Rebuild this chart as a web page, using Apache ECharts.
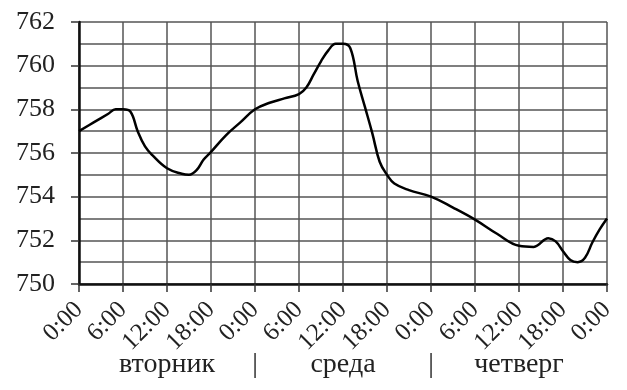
<!DOCTYPE html>
<html><head><meta charset="utf-8">
<script src="https://cdn.jsdelivr.net/npm/echarts@6/dist/echarts.min.js"></script>
<style>html,body{margin:0;padding:0;background:#fff}#c{width:627px;height:390px}</style>
</head><body><div id="c"></div>
<script>
const hours = [0,2,4,5,6,7,8,9,10,12,14,15,16,17,18,20,22,24,26,28,30,31,32,33,34,35,36,37,38,39,40,41,42,43,45,48,51,54,57,60,62,64,65,66,67,68,69,70,71,72];
const pressure = [757.0,757.4,757.8,758.0,758.0,757.9,757.0,756.3,755.9,755.3,755.05,755.0,755.2,755.7,756.05,756.8,757.4,758.0,758.3,758.5,758.7,759.0,759.6,760.2,760.7,761.0,761.0,760.8,759.3,758.1,756.9,755.6,755.0,754.6,754.3,754.0,753.5,752.95,752.3,751.75,751.7,752.1,751.95,751.5,751.1,751.0,751.2,751.9,752.5,753.0];
const dayNames = ['вторник','среда','четверг'];
const dayCenters = [12,36,60];
const daySeparators = [24,48];
const yMin = 750, yMax = 762;

const font = '"Liberation Serif","Times New Roman",serif';
const chart = echarts.init(document.getElementById('c'));
const dayLabelMap = {};
dayCenters.forEach((h,i)=>dayLabelMap[h]=dayNames[i]);
daySeparators.forEach(h=>dayLabelMap[h]='|');
chart.setOption({
  animation:false,
  grid:{left:79,right:20,top:22,bottom:106},
  xAxis:[{
    type:'value',min:0,max:72,interval:6,
    axisLine:{show:true,onZero:false,lineStyle:{color:'#111',width:2.5}},
    axisTick:{show:true,inside:false,length:8,lineStyle:{color:'#333',width:1.5}},
    splitLine:{show:true,lineStyle:{color:'#555',width:1.5}},
    axisLabel:{rotate:45,margin:22,fontFamily:font,fontSize:25,color:'#222',
      formatter:v=>(v%24)+':00'}
  },{
    type:'value',min:0,max:72,position:'bottom',offset:59,
    axisLine:{show:false},axisTick:{show:false},splitLine:{show:false},
    axisLabel:{customValues:dayCenters.concat(daySeparators),fontFamily:font,fontSize:28,color:'#222',
      formatter:v=>dayLabelMap[v]||''}
  }],
  yAxis:{
    type:'value',min:yMin,max:yMax,interval:2,
    axisLine:{show:true,lineStyle:{color:'#111',width:2.5}},
    axisTick:{show:true,length:8,lineStyle:{color:'#333',width:1.5}},
    minorTick:{show:false,splitNumber:2},
    splitLine:{show:true,lineStyle:{color:'#555',width:1.5}},
    minorSplitLine:{show:true,lineStyle:{color:'#555',width:1.5}},
    axisLabel:{margin:24,fontFamily:font,fontSize:26,color:'#222'}
  },
  series:[{
    type:'line',xAxisIndex:0,
    data:hours.map((h,i)=>[h,pressure[i]]),
    smooth:0.4,showSymbol:false,
    lineStyle:{color:'#000',width:2.5}
  }]
});
</script></body></html>
